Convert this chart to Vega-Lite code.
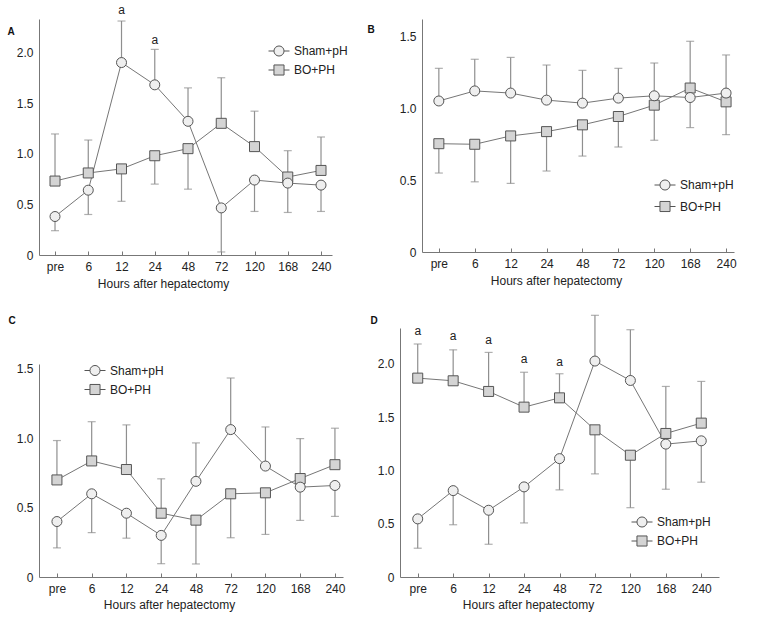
{
  "$schema": "https://vega.github.io/schema/vega-lite/v6.json",
  "background": "white",
  "padding": {"left": 7, "top": 3, "right": 5, "bottom": 5},
  "datasets": {
    "d": [
      {"p":"A","g":"Sham+pH","t":"pre","m":0.38,"e":0.24},
      {"p":"A","g":"Sham+pH","t":"6","m":0.64,"e":0.40},
      {"p":"A","g":"Sham+pH","t":"12","m":1.90,"e":2.31},
      {"p":"A","g":"Sham+pH","t":"24","m":1.68,"e":2.03},
      {"p":"A","g":"Sham+pH","t":"48","m":1.32,"e":1.65},
      {"p":"A","g":"Sham+pH","t":"72","m":0.465,"e":0.03},
      {"p":"A","g":"Sham+pH","t":"120","m":0.74,"e":0.43},
      {"p":"A","g":"Sham+pH","t":"168","m":0.71,"e":0.42},
      {"p":"A","g":"Sham+pH","t":"240","m":0.69,"e":0.43},
      {"p":"A","g":"BO+PH","t":"pre","m":0.73,"e":1.195},
      {"p":"A","g":"BO+PH","t":"6","m":0.81,"e":1.135},
      {"p":"A","g":"BO+PH","t":"12","m":0.85,"e":0.53},
      {"p":"A","g":"BO+PH","t":"24","m":0.98,"e":0.70},
      {"p":"A","g":"BO+PH","t":"48","m":1.05,"e":0.65},
      {"p":"A","g":"BO+PH","t":"72","m":1.30,"e":1.75},
      {"p":"A","g":"BO+PH","t":"120","m":1.07,"e":1.42},
      {"p":"A","g":"BO+PH","t":"168","m":0.77,"e":1.03},
      {"p":"A","g":"BO+PH","t":"240","m":0.835,"e":1.165},
      {"p":"B","g":"Sham+pH","t":"pre","m":1.05,"e":1.277},
      {"p":"B","g":"Sham+pH","t":"6","m":1.12,"e":1.34},
      {"p":"B","g":"Sham+pH","t":"12","m":1.105,"e":1.353},
      {"p":"B","g":"Sham+pH","t":"24","m":1.056,"e":1.30},
      {"p":"B","g":"Sham+pH","t":"48","m":1.035,"e":1.263},
      {"p":"B","g":"Sham+pH","t":"72","m":1.07,"e":1.277},
      {"p":"B","g":"Sham+pH","t":"120","m":1.086,"e":1.314},
      {"p":"B","g":"Sham+pH","t":"168","m":1.074,"e":0.865},
      {"p":"B","g":"Sham+pH","t":"240","m":1.105,"e":1.37},
      {"p":"B","g":"BO+PH","t":"pre","m":0.753,"e":0.549},
      {"p":"B","g":"BO+PH","t":"6","m":0.749,"e":0.488},
      {"p":"B","g":"BO+PH","t":"12","m":0.807,"e":0.477},
      {"p":"B","g":"BO+PH","t":"24","m":0.837,"e":0.563},
      {"p":"B","g":"BO+PH","t":"48","m":0.884,"e":0.667},
      {"p":"B","g":"BO+PH","t":"72","m":0.942,"e":0.73},
      {"p":"B","g":"BO+PH","t":"120","m":1.021,"e":0.777},
      {"p":"B","g":"BO+PH","t":"168","m":1.14,"e":1.465},
      {"p":"B","g":"BO+PH","t":"240","m":1.044,"e":0.816},
      {"p":"C","g":"Sham+pH","t":"pre","m":0.40,"e":0.21},
      {"p":"C","g":"Sham+pH","t":"6","m":0.60,"e":0.32},
      {"p":"C","g":"Sham+pH","t":"12","m":0.46,"e":0.28},
      {"p":"C","g":"Sham+pH","t":"24","m":0.30,"e":0.096},
      {"p":"C","g":"Sham+pH","t":"48","m":0.69,"e":0.967},
      {"p":"C","g":"Sham+pH","t":"72","m":1.063,"e":1.435},
      {"p":"C","g":"Sham+pH","t":"120","m":0.80,"e":1.082},
      {"p":"C","g":"Sham+pH","t":"168","m":0.648,"e":0.408},
      {"p":"C","g":"Sham+pH","t":"240","m":0.66,"e":0.437},
      {"p":"C","g":"BO+PH","t":"pre","m":0.70,"e":0.984},
      {"p":"C","g":"BO+PH","t":"6","m":0.837,"e":1.12},
      {"p":"C","g":"BO+PH","t":"12","m":0.775,"e":1.097},
      {"p":"C","g":"BO+PH","t":"24","m":0.46,"e":0.708},
      {"p":"C","g":"BO+PH","t":"48","m":0.41,"e":0.094},
      {"p":"C","g":"BO+PH","t":"72","m":0.60,"e":0.283},
      {"p":"C","g":"BO+PH","t":"120","m":0.607,"e":0.307},
      {"p":"C","g":"BO+PH","t":"168","m":0.71,"e":0.998},
      {"p":"C","g":"BO+PH","t":"240","m":0.81,"e":1.073},
      {"p":"D","g":"Sham+pH","t":"pre","m":0.545,"e":0.27},
      {"p":"D","g":"Sham+pH","t":"6","m":0.81,"e":0.49},
      {"p":"D","g":"Sham+pH","t":"12","m":0.626,"e":0.307},
      {"p":"D","g":"Sham+pH","t":"24","m":0.845,"e":0.507},
      {"p":"D","g":"Sham+pH","t":"48","m":1.11,"e":0.817},
      {"p":"D","g":"Sham+pH","t":"72","m":2.025,"e":2.454},
      {"p":"D","g":"Sham+pH","t":"120","m":1.843,"e":2.319},
      {"p":"D","g":"Sham+pH","t":"168","m":1.246,"e":0.823},
      {"p":"D","g":"Sham+pH","t":"240","m":1.277,"e":0.889},
      {"p":"D","g":"BO+PH","t":"pre","m":1.865,"e":2.185},
      {"p":"D","g":"BO+PH","t":"6","m":1.84,"e":2.13},
      {"p":"D","g":"BO+PH","t":"12","m":1.74,"e":2.106},
      {"p":"D","g":"BO+PH","t":"24","m":1.593,"e":1.92},
      {"p":"D","g":"BO+PH","t":"48","m":1.68,"e":1.906},
      {"p":"D","g":"BO+PH","t":"72","m":1.38,"e":0.967},
      {"p":"D","g":"BO+PH","t":"120","m":1.142,"e":0.65},
      {"p":"D","g":"BO+PH","t":"168","m":1.346,"e":1.787},
      {"p":"D","g":"BO+PH","t":"240","m":1.443,"e":1.834}
    ],
    "ann": [
      {"p":"A","t":"12","y":2.42},
      {"p":"A","t":"24","y":2.12},
      {"p":"D","t":"pre","y":2.31},
      {"p":"D","t":"6","y":2.257},
      {"p":"D","t":"12","y":2.225},
      {"p":"D","t":"24","y":2.047},
      {"p":"D","t":"48","y":2.013}
    ]
  },
  "bounds": "flush",
  "align": "each",
  "columns": 2,
  "spacing": {"row": 73, "column": 57},
  "resolve": {"scale": {"fill": "independent"}, "legend": {"fill": "independent"}},
  "concat": [
    {
      "width": 293, "height": 236,
      "layer": [
        {"data": {"name": "d"}, "transform": [{"filter": "datum.p === 'A'"}],
         "mark": {"type": "rule", "color": "#8f8f8f", "strokeWidth": 1.2},
         "encoding": {
           "x": {"field": "t", "type": "ordinal", "scale": {"type": "point", "domain": ["pre","6","12","24","48","72","120","168","240"], "padding": 0.406, "align": 0.593}, "axis": {"title": "Hours after hepatectomy", "titleX": 124}},
           "y": {"field": "m", "type": "quantitative", "scale": {"domain": [0, 2.33], "nice": false}, "axis": {"title": "A", "values": [0, 0.5, 1, 1.5, 2], "titleX": -32, "titleY": 12}},
           "y2": {"field": "e"}}},
        {"data": {"name": "d"}, "transform": [{"filter": "datum.p === 'A'"}],
         "mark": {"type": "tick", "color": "#8f8f8f", "thickness": 1.2, "size": 8},
         "encoding": {"x": {"field": "t", "type": "ordinal"}, "y": {"field": "e", "type": "quantitative"}}},
        {"data": {"name": "d"}, "transform": [{"filter": "datum.p === 'A'"}],
         "mark": {"type": "line", "color": "#767676", "strokeWidth": 1},
         "encoding": {"x": {"field": "t", "type": "ordinal"}, "y": {"field": "m", "type": "quantitative"}, "detail": {"field": "g"}, "order": {"value": null}}},
        {"data": {"name": "d"}, "transform": [{"filter": "datum.p === 'A' && datum.g === 'BO+PH'"}],
         "mark": {"type": "point", "shape": "square", "filled": true, "size": 100, "stroke": "#555555", "strokeWidth": 1, "opacity": 1},
         "encoding": {"x": {"field": "t", "type": "ordinal"}, "y": {"field": "m", "type": "quantitative"},
           "fill": {"field": "g", "type": "nominal", "scale": {"domain": ["Sham+pH", "BO+PH"], "range": ["#efefef", "#d4d4d4"]},
             "legend": {"title": null, "orient": "none", "legendX": 229, "legendY": 21, "rowPadding": 0,
               "encode": {"symbols": {"update": {"shape": {"signal": "datum.value === 'Sham+pH' ? 'M-1,0H-0.48M0.48,0H1M-0.48,0A0.48,0.48,0,1,1,0.48,0A0.48,0.48,0,1,1,-0.48,0Z' : 'M-1,0H-0.48M0.48,0H1M-0.48,-0.48H0.48V0.48H-0.48Z'"}, "stroke": {"value": "#555555"}, "strokeWidth": {"value": 1}}}}}}}},
        {"data": {"name": "d"}, "transform": [{"filter": "datum.p === 'A' && datum.g === 'Sham+pH'"}],
         "mark": {"type": "point", "shape": "circle", "filled": true, "size": 100, "stroke": "#555555", "strokeWidth": 1, "opacity": 1},
         "encoding": {"x": {"field": "t", "type": "ordinal"}, "y": {"field": "m", "type": "quantitative"},
           "fill": {"field": "g", "type": "nominal"}}},
        {"data": {"name": "ann"}, "transform": [{"filter": "datum.p === 'A'"}],
         "mark": {"type": "text", "fontSize": 12, "font": "Liberation Sans", "color": "#222", "baseline": "middle"},
         "encoding": {"x": {"field": "t", "type": "ordinal"}, "y": {"field": "y", "type": "quantitative"}, "text": {"value": "a"}}}
      ]
    },
    {
      "width": 334, "height": 233,
      "layer": [
        {"data": {"name": "d"}, "transform": [{"filter": "datum.p === 'B'"}],
         "mark": {"type": "rule", "color": "#8f8f8f", "strokeWidth": 1.2},
         "encoding": {
           "x": {"field": "t", "type": "ordinal", "scale": {"type": "point", "domain": ["pre","6","12","24","48","72","120","168","240"], "range": [22, 334], "padding": 0.345, "align": 0.68}, "axis": {"title": "Hours after hepatectomy", "titleX": 156}},
           "y": {"field": "m", "type": "quantitative", "scale": {"domain": [0, 1.62], "nice": false}, "axis": {"title": "B", "values": [0, 0.5, 1, 1.5], "offset": -22, "titleX": -55, "titleY": 10}},
           "y2": {"field": "e"}}},
        {"data": {"name": "d"}, "transform": [{"filter": "datum.p === 'B'"}],
         "mark": {"type": "tick", "color": "#8f8f8f", "thickness": 1.2, "size": 8},
         "encoding": {"x": {"field": "t", "type": "ordinal"}, "y": {"field": "e", "type": "quantitative"}}},
        {"data": {"name": "d"}, "transform": [{"filter": "datum.p === 'B'"}],
         "mark": {"type": "line", "color": "#767676", "strokeWidth": 1},
         "encoding": {"x": {"field": "t", "type": "ordinal"}, "y": {"field": "m", "type": "quantitative"}, "detail": {"field": "g"}, "order": {"value": null}}},
        {"data": {"name": "d"}, "transform": [{"filter": "datum.p === 'B' && datum.g === 'BO+PH'"}],
         "mark": {"type": "point", "shape": "square", "filled": true, "size": 100, "stroke": "#555555", "strokeWidth": 1, "opacity": 1},
         "encoding": {"x": {"field": "t", "type": "ordinal"}, "y": {"field": "m", "type": "quantitative"},
           "fill": {"field": "g", "type": "nominal", "scale": {"domain": ["Sham+pH", "BO+PH"], "range": ["#efefef", "#d4d4d4"]},
             "legend": {"title": null, "orient": "none", "legendX": 254, "legendY": 155, "rowPadding": 2.5,
               "encode": {"symbols": {"update": {"shape": {"signal": "datum.value === 'Sham+pH' ? 'M-1,0H-0.48M0.48,0H1M-0.48,0A0.48,0.48,0,1,1,0.48,0A0.48,0.48,0,1,1,-0.48,0Z' : 'M-1,0H-0.48M0.48,0H1M-0.48,-0.48H0.48V0.48H-0.48Z'"}, "stroke": {"value": "#555555"}, "strokeWidth": {"value": 1}}}}}}}},
        {"data": {"name": "d"}, "transform": [{"filter": "datum.p === 'B' && datum.g === 'Sham+pH'"}],
         "mark": {"type": "point", "shape": "circle", "filled": true, "size": 100, "stroke": "#555555", "strokeWidth": 1, "opacity": 1},
         "encoding": {"x": {"field": "t", "type": "ordinal"}, "y": {"field": "m", "type": "quantitative"},
           "fill": {"field": "g", "type": "nominal"}}}
      ]
    },
    {
      "width": 304, "height": 249,
      "layer": [
        {"data": {"name": "d"}, "transform": [{"filter": "datum.p === 'C'"}],
         "mark": {"type": "rule", "color": "#8f8f8f", "strokeWidth": 1.2},
         "encoding": {
           "x": {"field": "t", "type": "ordinal", "scale": {"type": "point", "domain": ["pre","6","12","24","48","72","120","168","240"], "padding": 0.374, "align": 0.69}, "axis": {"title": "Hours after hepatectomy", "titleX": 130, "titleY": 27}},
           "y": {"field": "m", "type": "quantitative", "scale": {"domain": [0, 1.536], "nice": false, "range": [249, 36]}, "axis": {"title": "C", "values": [0, 0.5, 1, 1.5], "titleX": -31, "titleY": -8}},
           "y2": {"field": "e"}}},
        {"data": {"name": "d"}, "transform": [{"filter": "datum.p === 'C'"}],
         "mark": {"type": "tick", "color": "#8f8f8f", "thickness": 1.2, "size": 8},
         "encoding": {"x": {"field": "t", "type": "ordinal"}, "y": {"field": "e", "type": "quantitative"}}},
        {"data": {"name": "d"}, "transform": [{"filter": "datum.p === 'C'"}],
         "mark": {"type": "line", "color": "#767676", "strokeWidth": 1},
         "encoding": {"x": {"field": "t", "type": "ordinal"}, "y": {"field": "m", "type": "quantitative"}, "detail": {"field": "g"}, "order": {"value": null}}},
        {"data": {"name": "d"}, "transform": [{"filter": "datum.p === 'C' && datum.g === 'BO+PH'"}],
         "mark": {"type": "point", "shape": "square", "filled": true, "size": 100, "stroke": "#555555", "strokeWidth": 1, "opacity": 1},
         "encoding": {"x": {"field": "t", "type": "ordinal"}, "y": {"field": "m", "type": "quantitative"},
           "fill": {"field": "g", "type": "nominal", "scale": {"domain": ["Sham+pH", "BO+PH"], "range": ["#efefef", "#d4d4d4"]},
             "legend": {"title": null, "orient": "none", "legendX": 45, "legendY": 31.5, "rowPadding": -1,
               "encode": {"symbols": {"update": {"shape": {"signal": "datum.value === 'Sham+pH' ? 'M-1,0H-0.48M0.48,0H1M-0.48,0A0.48,0.48,0,1,1,0.48,0A0.48,0.48,0,1,1,-0.48,0Z' : 'M-1,0H-0.48M0.48,0H1M-0.48,-0.48H0.48V0.48H-0.48Z'"}, "stroke": {"value": "#555555"}, "strokeWidth": {"value": 1}}}}}}}},
        {"data": {"name": "d"}, "transform": [{"filter": "datum.p === 'C' && datum.g === 'Sham+pH'"}],
         "mark": {"type": "point", "shape": "circle", "filled": true, "size": 100, "stroke": "#555555", "strokeWidth": 1, "opacity": 1},
         "encoding": {"x": {"field": "t", "type": "ordinal"}, "y": {"field": "m", "type": "quantitative"},
           "fill": {"field": "g", "type": "nominal"}}}
      ]
    },
    {
      "width": 319, "height": 249,
      "layer": [
        {"data": {"name": "d"}, "transform": [{"filter": "datum.p === 'D'"}],
         "mark": {"type": "rule", "color": "#8f8f8f", "strokeWidth": 1.2},
         "encoding": {
           "x": {"field": "t", "type": "ordinal", "scale": {"type": "point", "domain": ["pre","6","12","24","48","72","120","168","240"], "padding": 0.5, "align": 0.5}, "axis": {"title": "Hours after hepatectomy", "titleX": 128, "titleY": 27}},
           "y": {"field": "m", "type": "quantitative", "scale": {"domain": [0, 2.335], "nice": false}, "axis": {"title": "D", "values": [0, 0.5, 1, 1.5, 2], "titleX": -30, "titleY": -8}},
           "y2": {"field": "e"}}},
        {"data": {"name": "d"}, "transform": [{"filter": "datum.p === 'D'"}],
         "mark": {"type": "tick", "color": "#8f8f8f", "thickness": 1.2, "size": 8},
         "encoding": {"x": {"field": "t", "type": "ordinal"}, "y": {"field": "e", "type": "quantitative"}}},
        {"data": {"name": "d"}, "transform": [{"filter": "datum.p === 'D'"}],
         "mark": {"type": "line", "color": "#767676", "strokeWidth": 1},
         "encoding": {"x": {"field": "t", "type": "ordinal"}, "y": {"field": "m", "type": "quantitative"}, "detail": {"field": "g"}, "order": {"value": null}}},
        {"data": {"name": "d"}, "transform": [{"filter": "datum.p === 'D' && datum.g === 'BO+PH'"}],
         "mark": {"type": "point", "shape": "square", "filled": true, "size": 100, "stroke": "#555555", "strokeWidth": 1, "opacity": 1},
         "encoding": {"x": {"field": "t", "type": "ordinal"}, "y": {"field": "m", "type": "quantitative"},
           "fill": {"field": "g", "type": "nominal", "scale": {"domain": ["Sham+pH", "BO+PH"], "range": ["#efefef", "#d4d4d4"]},
             "legend": {"title": null, "orient": "none", "legendX": 231, "legendY": 183, "rowPadding": -1,
               "encode": {"symbols": {"update": {"shape": {"signal": "datum.value === 'Sham+pH' ? 'M-1,0H-0.48M0.48,0H1M-0.48,0A0.48,0.48,0,1,1,0.48,0A0.48,0.48,0,1,1,-0.48,0Z' : 'M-1,0H-0.48M0.48,0H1M-0.48,-0.48H0.48V0.48H-0.48Z'"}, "stroke": {"value": "#555555"}, "strokeWidth": {"value": 1}}}}}}}},
        {"data": {"name": "d"}, "transform": [{"filter": "datum.p === 'D' && datum.g === 'Sham+pH'"}],
         "mark": {"type": "point", "shape": "circle", "filled": true, "size": 100, "stroke": "#555555", "strokeWidth": 1, "opacity": 1},
         "encoding": {"x": {"field": "t", "type": "ordinal"}, "y": {"field": "m", "type": "quantitative"},
           "fill": {"field": "g", "type": "nominal"}}},
        {"data": {"name": "ann"}, "transform": [{"filter": "datum.p === 'D'"}],
         "mark": {"type": "text", "fontSize": 12, "font": "Liberation Sans", "color": "#222", "baseline": "middle"},
         "encoding": {"x": {"field": "t", "type": "ordinal"}, "y": {"field": "y", "type": "quantitative"}, "text": {"value": "a"}}}
      ]
    }
  ],
  "config": {
    "view": {"stroke": null},
    "font": "Liberation Sans",
    "axis": {"grid": false, "domainColor": "#777", "tickColor": "#777", "domainWidth": 1, "tickWidth": 1,
      "labelFont": "Liberation Sans", "labelFontSize": 12, "labelColor": "#222",
      "titleFont": "Liberation Sans", "titleFontSize": 12, "titleFontWeight": "normal", "titleColor": "#222"},
    "axisX": {"tickSize": -4, "labelPadding": 10, "labelAngle": 0, "titleY": 28, "titleBaseline": "middle"},
    "axisY": {"ticks": false, "labelPadding": 6,
      "labelExpr": "datum.value === 0 ? '0' : format(datum.value, '.1f')",
      "titleAngle": 0, "titleAlign": "left", "titleBaseline": "middle", "titleFontWeight": "bold", "titleFontSize": 10, "titleColor": "#111"},
    "legend": {"symbolSize": 441, "labelFont": "Liberation Sans", "labelFontSize": 12, "labelColor": "#222", "labelOffset": 4, "padding": 0, "symbolStrokeColor": "#555555", "symbolStrokeWidth": 1, "symbolOpacity": 1}
  }
}
